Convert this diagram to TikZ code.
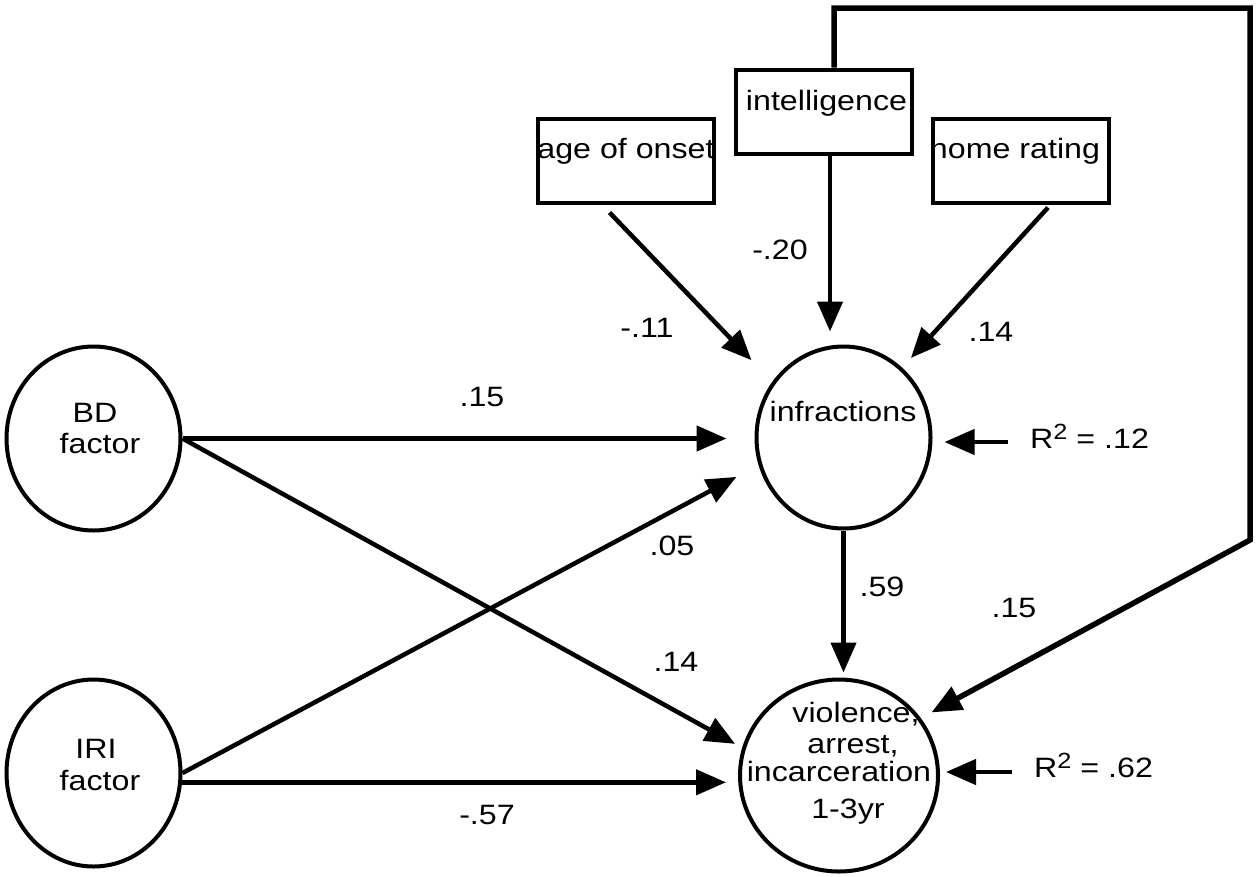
\documentclass[tikz,border=0pt]{standalone}
\usepackage{fontspec}
\setmainfont{Liberation Sans}[FakeStretch=1.15]
\usetikzlibrary{arrows.meta,shapes.geometric,calc}
\begin{document}
\begin{tikzpicture}[x=1pt,y=-1pt,
  arr/.style={line width=4.5pt,-{Triangle[length=30pt,width=25pt]}},
  loopline/.style={line width=5.5pt,-{Triangle[length=30pt,width=25pt]}},
  ell/.style={draw,line width=4pt,ellipse,inner sep=0pt},
  box/.style={draw,line width=4pt,rectangle,minimum width=176pt,minimum height=84pt,inner sep=0pt},
  txt/.style={font=\fontsize{28}{31}\selectfont,inner sep=0pt,anchor=base},
  lab/.style={font=\fontsize{28}{31}\selectfont,inner sep=0pt}]
\useasboundingbox (0,0) rectangle (1257,876);
% latent / outcome ellipses
\node[ell,minimum width=174pt,minimum height=184pt] (bd) at (93.5,438.5) {};
\node[ell,minimum width=174pt,minimum height=187pt] (iri) at (93.5,773) {};
\node[ell,minimum width=174pt,minimum height=182pt] (inf) at (843.5,437.5) {};
\node[ell,minimum width=198pt,minimum height=192pt] (viol) at (839,775.5) {};
% boxes
\node[box] (age) at (625.5,160.5) {};
\node[box] (intel) at (823.5,111.5) {};
\node[box] (home) at (1021,160.5) {};
% texts
\node[txt] (bd1) at (95,422) {BD};
\node[txt] (bd2) at (100,453) {factor};
\node[txt] (iri1) at (96,758) {IRI};
\node[txt] (iri2) at (100,790) {factor};
\node[txt] (inft) at (843,421) {infractions};
\node[txt] (v1) at (856,722) {violence,};
\node[txt] (v2) at (853,753) {arrest,};
\node[txt] (v3) at (839,781) {incarceration};
\node[txt] (v4) at (848,818) {1-3yr};
\node[txt] (aget) at (626,158) {age of onset};
\node[txt] (intelt) at (826.5,110) {intelligence};
\node[txt] (homet) at (1015,158) {home rating};
% connectors
\draw[arr,shorten >=28pt] (bd.east) -- (inf.west |- bd.east);
\draw[arr,shorten >=8pt] (bd.east) -- (viol.164);
\draw[arr,shorten >=25pt] (iri.east) -- (inf.198);
\draw[arr,shorten >=12pt] (iri.-6) -- (iri.-6 -| viol.west);
\draw[arr,shorten >=5pt] (inf.south) -- (inf.south |- viol.north);
\coordinate (as) at ($(age.south)+(-16,8)$);
\draw[arr,shorten >=30pt] (as) -- (inf.142);
\coordinate (ia) at ($(intel.south)+(6.5,0)$);
\draw[arr,shorten >=13pt] (ia) -- (ia |- inf.north);
\coordinate (hs) at ($(home.south)+(27,3)$);
\draw[arr,shorten >=13pt] (hs) -- (inf.50);
\coordinate (it) at ($(intel.north)+(10.5,0)$);
\coordinate (c1) at (1250,8);
\coordinate (c2) at (1250,540);
\draw[loopline,shorten >=12pt] (it) -- (it |- c1) -- (c1) -- (c2) -- (viol.35);
% residual arrows
\coordinate (e1) at (1008,442);
\draw[arr,shorten >=12pt] (e1) -- (e1 -| inf.east);
\coordinate (e2) at (1012,772);
\draw[arr,shorten >=6pt] (e2) -- (e2 -| viol.east);
\node[lab,anchor=base west] (r1) at (1030,448) {R\raisebox{9pt}{\fontsize{22}{22}\selectfont 2} = .12};
\node[lab,anchor=base west] (r2) at (1034,777) {R\raisebox{9pt}{\fontsize{22}{22}\selectfont 2} = .62};
% path coefficients
\node[lab] (l1) at (482,397) {.15};
\node[lab] (l2) at (780,250) {-.20};
\node[lab] (l3) at (647,328) {-.11};
\node[lab] (l4) at (991,332) {.14};
\node[lab] (l5) at (672,546) {.05};
\node[lab] (l6) at (676,662) {.14};
\node[lab] (l7) at (882,587) {.59};
\node[lab] (l8) at (1014,608) {.15};
\node[lab] (l9) at (487,815) {-.57};
\end{tikzpicture}
\end{document}
